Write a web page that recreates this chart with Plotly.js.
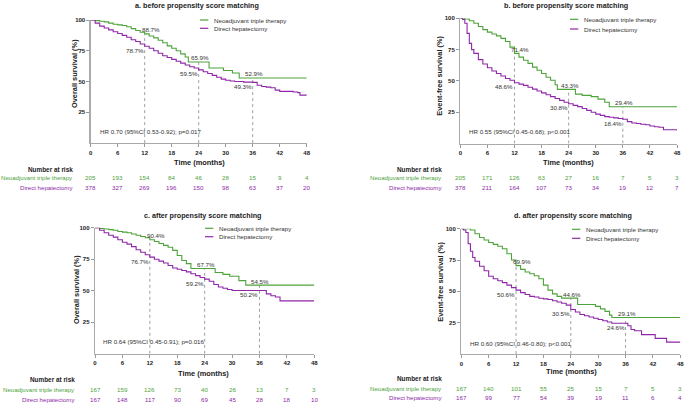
<!DOCTYPE html>
<html><head><meta charset="utf-8">
<script src="https://cdn.plot.ly/plotly-3.0.1.min.js"></script>
<style>html,body{margin:0;padding:0;background:#fff}#chart{width:685px;height:403px}</style>
</head><body><div id="chart"></div>
<script>
// ---------------- DATA ----------------
const timeTicks = [0, 6, 12, 18, 24, 30, 36, 42, 48];
const groupNames = ['Neoadjuvant triple therapy', 'Direct hepatectomy'];
const markTimes = [12, 24, 36];

// Panel a: OS before PSM
const aTimeNeo = [0,1,2,3,4,5,6,7,8,9,10,11,12,13,14,15,16,17,18,19,20,21,21.7,26.3,29.5,31.5,33,48];
const aSurvNeo = [100,99.5,99,98.5,97.5,96.5,96,95.5,94.5,93,91.5,90,88.7,87,85.5,83.5,81.5,79,77,75,72.5,70,65.9,61,59,57,52.9,52.9];
const aTimeDir = [0,1,2,3,4,5,6,7,8,9,10,11,12,13,14,15,16,17,18,19,20,21,22,23,24,25,26,27,28,29,30,31,32,34,36,37,38,39,40,41,42,44,45,46,46.5,48];
const aSurvDir = [100,97.5,95,93.5,92,90.5,89,87.5,86,84,82.5,80.5,78.7,77,75,73,71,69.5,68,66.5,65,63.5,62,61,59.5,58,56.5,55,53.5,52,51,50.5,50,49.5,49.3,47,46,45.5,45,43,42,42,41.5,41,39,38.8];

// Panel b: EFS before PSM
const bTimeNeo = [0,1,2,3,4,5,6,7,8,9,10,11,12,13,14,15,16,17,18,19,20,21,21.5,24.5,25.5,27,29,30.5,32,33,48];
const bSurvNeo = [100,99.5,98,96,93.5,91,89,87.5,86,84,81.5,77,72,69,66.5,64,61,58.5,56,53,50.5,47,43.3,43.3,39.5,38.5,37.5,35.5,33,29.4,29.4];
const bTimeDir = [0,0.5,1,1.5,2,2.5,3,4,5,6,7,8,9,10,11,12,13,14,15,16,17,18,19,20,21,22,23,24,25,26,27,28,29,30,31,32,33,34,35,36,37,38,39,40,41,42,43,44,45,48];
const bSurvDir = [100,99,96,88,80,75,72,67,63.5,60.5,58,56,54,52,50.5,48.6,47.5,46.5,45,43.5,42,40.5,39,37.5,36,34.5,33,31.8,30.5,29.5,28,26.5,25,23.5,22.5,21.5,21,20.5,20,19.4,17.5,16.5,16,15.5,15,14,13.5,13,11,10.5];

// Panel c: OS after PSM
const cTimeNeo = [0,1,2,3,4,5,6,7,8,9,10,11,12,13,14,15,16,17,18,19,20,21,26.3,28,29.5,31.5,33,48];
const cSurvNeo = [100,99.5,99,98.5,98,97,96.5,96,95,94,93,92,90.4,89,87.5,86,84.5,82,78,74,71.5,67.7,64.5,63,61.5,58,54.5,54.5];
const cTimeDir = [0,1,2,3,4,5,6,7,8,9,10,11,12,13,14,15,16,17,18,19,20,21,22,23,24,25,26,27,28,29,30,36.8,37.5,38.5,39.5,40.5,48];
const cSurvDir = [100,98,96,94,92.5,90.5,88.5,87,85,82.5,80.5,78.5,76.7,75,73.5,72,70,68,67,66,65,63.5,62,60.5,59.2,57.5,55,53,52,51,50.2,50.2,47.5,46,45,42,42];

// Panel d: EFS after PSM
const dTimeNeo = [0,1,2,3,4,5,6,7,8,9,10,11,12,13,14,15,16,17,18,19,20,21,22,24.5,25.5,29.4,30.5,31.5,32.5,33,48];
const dSurvNeo = [100,100,99,96,93,91,89,87.5,86,84,80,75,70.5,67.5,65.5,64,62.5,60,55,51,48,46,44.6,44.6,39.5,38,36,34,31,29.1,29.1];
const dTimeDir = [0,0.5,1,1.5,2,2.5,3,4,5,6,7,8,9,10,11,12,13,14,15,16,17,18,19,20,21,22,23,24,25,26,27,28,29,30,31,32,33,36.5,37.2,38,39.5,42.5,45,48];
const dSurvDir = [100,99,97,88,82,77,74,70,66.5,62,60,58.5,57,55,53,51,49,47.5,46,45.5,44.5,44,43.5,42.5,41.5,40.5,39,35.5,33.5,31.5,30.5,29.5,28.5,27.5,26.5,25.5,24.6,22.5,19.5,18.5,15.5,12.5,9.5,9.5];

// Labelled survival at 12/24/36 months
const aMarkNeo = [88.7, 65.9, 52.9], aMarkDir = [78.7, 59.5, 49.3];
const bMarkNeo = [71.4, 43.3, 29.4], bMarkDir = [48.6, 30.8, 18.4];
const cMarkNeo = [90.4, 67.7, 54.5], cMarkDir = [76.7, 59.2, 50.2];
const dMarkNeo = [69.9, 44.6, 29.1], dMarkDir = [50.6, 30.5, 24.6];

// Number at risk
const riskANeo = [205,193,154,84,46,28,15,9,4];
const riskADir = [378,327,269,196,150,98,63,37,20];
const riskBNeo = [205,171,126,63,27,16,7,5,3];
const riskBDir = [378,211,164,107,73,34,19,12,7];
const riskCNeo = [167,159,126,73,40,26,13,7,3];
const riskCDir = [167,148,117,90,69,45,28,18,10];
const riskDNeo = [167,140,101,55,25,15,7,5,3];
const riskDDir = [167,99,77,54,39,19,11,6,4];

const hrTexts = [
  'HR 0.70 (95%CI 0.53-0.92); p=0.017',
  'HR 0.55 (95%CI 0.45-0.68); p&lt;0.001',
  'HR 0.64 (95%CI 0.45-0.91); p=0.016',
  'HR 0.60 (95%CI 0.46-0.80); p&lt;0.001'
];
const panelTitles = ['a. before propensity score matching','b. before propensity score matching','c. after propensity score matching','d. after propensity score matching'];
const yTitles = ['Overall survival (%)','Event-free survival (%)','Overall survival (%)','Event-free survival (%)'];

// ---------------- LAYOUT / DRAW ----------------
const W = 685, H = 403;
const PX = x => x / W, PY = y => 1 - y / H;
const GREEN = '#4ea33b', PURPLE = '#8e27a8', TXT = '#333333';
const FONT = 'Liberation Sans, Arial, sans-serif';
const FS = 6.2;

const panels = [
  {tN:aTimeNeo,sN:aSurvNeo,tD:aTimeDir,sD:aSurvDir,mN:aMarkNeo,mD:aMarkDir,rN:riskANeo,rD:riskADir,
   box:[90.7,306.7,143.1,20], title:[197,5], yT:[75,74], xT:[199,163], leg:[200,20,28.3], hr:[98,131], rX:75, rY:[169,178,187]},
  {tN:bTimeNeo,sN:bSurvNeo,tD:bTimeDir,sD:bSurvDir,mN:bMarkNeo,mD:bMarkDir,rN:riskBNeo,rD:riskBDir,
   box:[460.3,677,143.6,18.3], title:[566,5], yT:[438.7,76], xT:[568.7,162], leg:[570,19.3,29], hr:[467,131], rX:443.7, rY:[169,178,187.3]},
  {tN:cTimeNeo,sN:cSurvNeo,tD:cTimeDir,sD:cSurvDir,mN:cMarkNeo,mD:cMarkDir,rN:riskCNeo,rD:riskCDir,
   box:[95,314.3,353.8,227.7], title:[202,215], yT:[76,290], xT:[203,373.3], leg:[205,228.3,236.7], hr:[100.7,341.7], rX:76.7, rY:[379,389,399]},
  {tN:dTimeNeo,sN:dSurvNeo,tD:dTimeDir,sD:dSurvDir,mN:dMarkNeo,mD:dMarkDir,rN:riskDNeo,rD:riskDDir,
   box:[461.3,680.3,354,228.7], title:[573,215.3], yT:[441,281.7], xT:[571,371], leg:[572,229.3,238.3], hr:[468,343.3], rX:443.7, rY:[378,388,397.7]}
];

function stepAt(ts, ss, t) { let v = ss[0]; for (let i = 0; i < ts.length; i++) if (ts[i] <= t) v = ss[i]; return v; }

const data = [], annotations = [], shapes = [];
const layout = {width: W, height: H, margin: {l:0,r:0,t:0,b:0}, paper_bgcolor:'#fff', plot_bgcolor:'#fff',
  showlegend:false, font:{family:FONT, size:FS, color:TXT}};

panels.forEach((p, i) => {
  const n = i === 0 ? '' : String(i + 1);
  const xa = 'x' + n, ya = 'y' + n;
  const tf = {size:6, color:'#222', family:FONT, weight:'bold'};
  layout['xaxis' + n] = {domain:[PX(p.box[0]), PX(p.box[1])], anchor: ya, range:[0,48], tickvals: timeTicks,
    ticks:'outside', ticklen:3, tickcolor:'#999', tickwidth:1, showline:true, linecolor:'#aaa', linewidth:1.3,
    showgrid:false, zeroline:false, tickfont:tf, fixedrange:true};
  layout['yaxis' + n] = {domain:[PY(p.box[2]), PY(p.box[3])], anchor: xa, range:[0,100], tickvals:[25,50,75,100],
    ticks:'outside', ticklen:3, tickcolor:'#999', tickwidth:1, showline:true, linecolor:'#aaa', linewidth:1.3,
    showgrid:false, zeroline:false, tickfont:tf, fixedrange:true};

  data.push({x:p.tN, y:p.sN, xaxis:xa, yaxis:ya, mode:'lines', line:{shape:'hv', color:GREEN, width:1.1}, name:groupNames[0], cliponaxis:false});
  data.push({x:p.tD, y:p.sD, xaxis:xa, yaxis:ya, mode:'lines', line:{shape:'hv', color:PURPLE, width:1.1}, name:groupNames[1], cliponaxis:false});

  // dotted guide lines and labels
  markTimes.forEach((t, k) => {
    const vN = stepAt(p.tN, p.sN, t), vD = stepAt(p.tD, p.sD, t);
    shapes.push({type:'line', xref:xa, yref:ya, x0:t, x1:t, y0:0, y1:Math.max(vN, vD), layer:'below', line:{color:'#888', width:0.8, dash:'dot'}});
    annotations.push({xref:xa, yref:ya, x:t, y:vN, text:p.mN[k].toFixed(1) + '%', showarrow:false,
      xanchor:'center', yanchor:'middle', xshift: k === 0 ? 6 : 1, yshift:4, font:{size:FS, color:TXT}});
    annotations.push({xref:xa, yref:ya, x:t, y:vD, text:p.mD[k].toFixed(1) + '%', showarrow:false,
      xanchor:'right', yanchor:'middle', xshift:1, yshift:-4, font:{size:FS, color:TXT}});
  });

  // titles
  annotations.push({xref:'paper', yref:'paper', x:PX(p.title[0]), y:PY(p.title[1]), text:'<b>' + panelTitles[i] + '</b>',
    showarrow:false, xanchor:'center', yanchor:'middle', font:{size:7.2, color:'#222'}});
  annotations.push({xref:'paper', yref:'paper', x:PX(p.yT[0]), y:PY(p.yT[1]), text:'<b>' + yTitles[i] + '</b>', textangle:-90,
    showarrow:false, xanchor:'center', yanchor:'middle', font:{size:7.4, color:'#222'}});
  annotations.push({xref:'paper', yref:'paper', x:PX(p.xT[0]), y:PY(p.xT[1]), text:'<b>Time (months)</b>',
    showarrow:false, xanchor:'center', yanchor:'middle', font:{size:7.4, color:'#222'}});
  annotations.push({xref:'paper', yref:'paper', x:PX(p.hr[0]), y:PY(p.hr[1]), text:hrTexts[i],
    showarrow:false, xanchor:'left', yanchor:'middle', font:{size:FS, color:TXT}});

  // legend
  [GREEN, PURPLE].forEach((c, g) => {
    const ly = p.leg[1 + g];
    shapes.push({type:'line', xref:'paper', yref:'paper', x0:PX(p.leg[0]), x1:PX(p.leg[0] + 8.3), y0:PY(ly), y1:PY(ly), line:{color:c, width:1.2}});
    annotations.push({xref:'paper', yref:'paper', x:PX(p.leg[0] + 12), y:PY(ly), text:groupNames[g],
      showarrow:false, xanchor:'left', yanchor:'middle', font:{size:FS, color:TXT}});
  });

  // number at risk table
  annotations.push({xref:'paper', yref:'paper', x:PX(p.rX), y:PY(p.rY[0]), text:'<b>Number at risk</b>',
    showarrow:false, xanchor:'right', yanchor:'middle', font:{size:6.4, color:'#222'}});
  [[p.rN, GREEN], [p.rD, PURPLE]].forEach(([vals, c], g) => {
    annotations.push({xref:'paper', yref:'paper', x:PX(p.rX), y:PY(p.rY[1 + g]), text:groupNames[g],
      showarrow:false, xanchor:'right', yanchor:'middle', font:{size:6.1, color:c}});
    vals.forEach((v, k) => {
      annotations.push({xref:xa, yref:'paper', x:timeTicks[k], y:PY(p.rY[1 + g]), text:String(v),
        showarrow:false, xanchor:'center', yanchor:'middle', font:{size:FS, color:c}});
    });
  });
});

layout.annotations = annotations;
layout.shapes = shapes;
Plotly.newPlot('chart', data, layout, {staticPlot:true, displayModeBar:false});
</script></body></html>
